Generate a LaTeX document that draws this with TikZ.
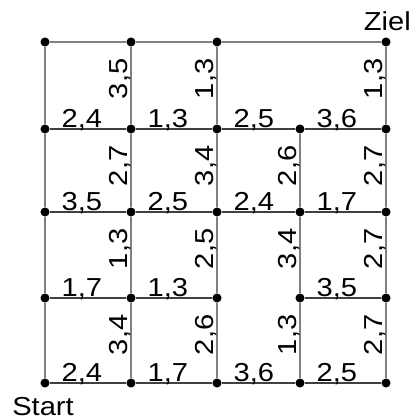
\documentclass[tikz,border=0pt]{standalone}
\usepackage{fontspec}
\setmainfont[FakeStretch=1.12]{Liberation Sans}
\begin{document}
\begin{tikzpicture}[x=0.75pt, y=0.75pt, font=\fontsize{19.5}{22}\selectfont,
  dot/.style={circle, fill=black, inner sep=0pt, minimum size=6.8pt},
  hedge/.style={black!75, line width=0.8pt},
  vedge/.style={black!50, line width=0.8pt},
  hlab/.style={pos=0, anchor=base west, xshift=8.5pt, yshift=1.2pt, inner sep=0pt, text=black},
  vlab/.style={pos=1, anchor=base east, xshift=-2.6pt, yshift=-8.5pt, rotate=90, inner sep=0pt, text=black}]
\useasboundingbox (0,0) rectangle (412,420);
% grid points
\foreach \c/\x in {0/45,1/131,2/217,3/300,4/386}
  \foreach \r/\y in {0/37,1/122,2/208,3/291}
    \node[dot] (n\c\r) at (\x,\y) {};
\node[dot] (n04) at (45,378) {};
\node[dot] (n14) at (131,378) {};
\node[dot] (n24) at (217,378) {};
\node[dot] (n44) at (386,378) {};
% horizontal edges
\draw[hedge] (n00) -- node[hlab] (h00) {2,4} (n10) -- node[hlab] (h10) {1,7} (n20)
  -- node[hlab] (h20) {3,6} (n30) -- node[hlab] (h30) {2,5} (n40);
\draw[hedge] (n01) -- node[hlab] (h01) {1,7} (n11) -- node[hlab] (h11) {1,3} (n21);
\draw[hedge] (n31) -- node[hlab] (h31) {3,5} (n41);
\draw[hedge] (n02) -- node[hlab] (h02) {3,5} (n12) -- node[hlab] (h12) {2,5} (n22)
  -- node[hlab] (h22) {2,4} (n32) -- node[hlab] (h32) {1,7} (n42);
\draw[hedge] (n03) -- node[hlab] (h03) {2,4} (n13) -- node[hlab] (h13) {1,3} (n23)
  -- node[hlab] (h23) {2,5} (n33) -- node[hlab] (h33) {3,6} (n43);
\draw[vedge] (n04) -- (n14) -- (n24) -- (n44);
% vertical edges
\draw[vedge] (n00) -- (n01) -- (n02) -- (n03) -- (n04);
\draw[vedge] (n10) -- node[vlab] (v10) {3,4} (n11) -- node[vlab] (v11) {1,3} (n12)
  -- node[vlab] (v12) {2,7} (n13) -- node[vlab] (v13) {3,5} (n14);
\draw[vedge] (n20) -- node[vlab] (v20) {2,6} (n21) -- node[vlab] (v21) {2,5} (n22)
  -- node[vlab] (v22) {3,4} (n23) -- node[vlab] (v23) {1,3} (n24);
\draw[vedge] (n30) -- node[vlab] (v30) {1,3} (n31) -- node[vlab] (v31) {3,4} (n32)
  -- node[vlab] (v32) {2,6} (n33);
\draw[vedge] (n40) -- node[vlab] (v40) {2,7} (n41) -- node[vlab] (v41) {2,7} (n42)
  -- node[vlab] (v42) {2,7} (n43) -- node[vlab] (v43) {1,3} (n44);
% start and goal
\node[anchor=base west, inner sep=0pt] (start) at (12,4) {Start};
\node[anchor=base east, inner sep=0pt] (ziel) at (411,389) {Ziel};
\end{tikzpicture}
\end{document}
